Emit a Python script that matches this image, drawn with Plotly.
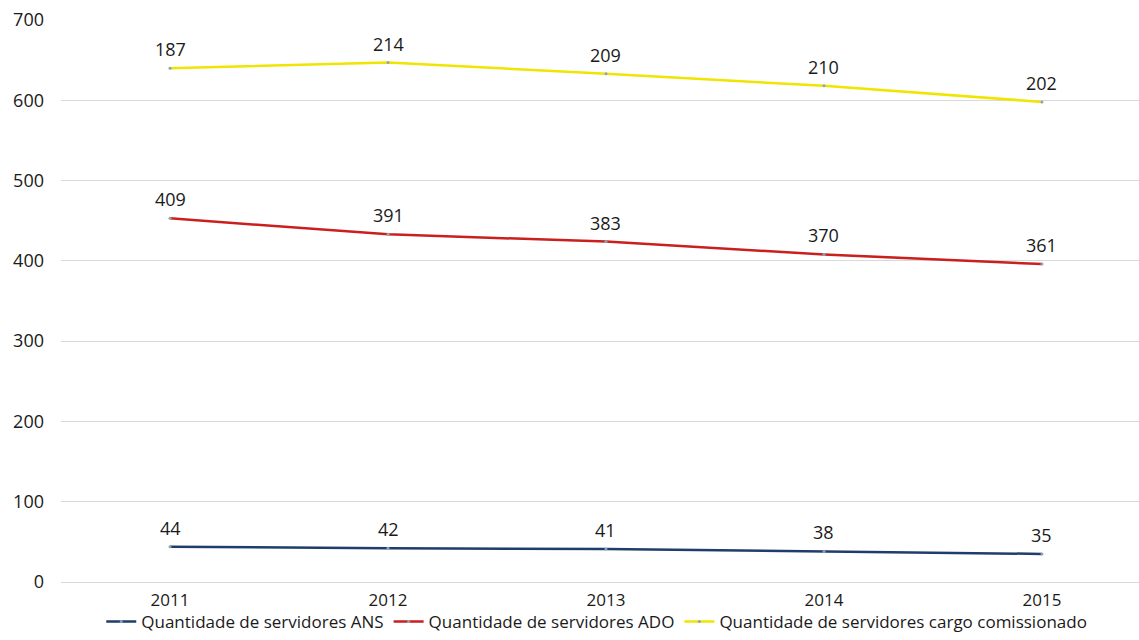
import plotly.graph_objects as go

years = ["2011", "2012", "2013", "2014", "2015"]
ans = [44, 42, 41, 38, 35]
ado = [409, 391, 383, 370, 361]
cargo = [187, 214, 209, 210, 202]

series = [
    ("Quantidade de servidores ANS", ans, "#1F3D6B"),
    ("Quantidade de servidores ADO", ado, "#C9201E"),
    ("Quantidade de servidores cargo comissionado", cargo, "#F0E500"),
]

FONT = "Open Sans"
fig = go.Figure()
running = [0] * len(years)
for name, vals, color in series:
    running = [r + v for r, v in zip(running, vals)]
    fig.add_trace(go.Scatter(
        x=years, y=vals, name=name, stackgroup="total", fill="none",
        mode="lines+markers",
        line=dict(color=color, width=2.5),
        marker=dict(color="#8FA3B8", size=3),
    ))
    # value labels sit above each stacked point
    for i, (tot, v) in enumerate(zip(running, vals)):
        fig.add_annotation(
            x=i, y=tot, xref="x", yref="y", text=str(v), showarrow=False,
            yshift=19, font=dict(family=FONT, size=18, color="#1a1a1a"),
        )

fig.update_layout(
    width=1139, height=640,
    margin=dict(l=61, r=0, t=20, b=58, autoexpand=False),
    paper_bgcolor="white", plot_bgcolor="white",
    font=dict(family=FONT, size=18, color="#1a1a1a"),
    showlegend=True,
    legend=dict(orientation="h", x=0.497, xanchor="center",
                yref="container", y=0.0, yanchor="bottom",
                bgcolor="rgba(0,0,0,0)",
                font=dict(family=FONT, size=17), itemwidth=30,
                tracegroupgap=0, traceorder="normal"),
    xaxis=dict(type="category", range=[-0.5, 4.445], showgrid=False,
               showline=False, ticks="", ticklabelstandoff=6,
               tickfont=dict(size=17)),
    yaxis=dict(range=[0, 700], dtick=100, showgrid=True, gridcolor="#D9D9D9",
               gridwidth=1, zeroline=True, zerolinecolor="#D9D9D9", zerolinewidth=1,
               ticks="", ticklabelstandoff=16, tickfont=dict(size=18)),
)

fig.write_html("out.html")
